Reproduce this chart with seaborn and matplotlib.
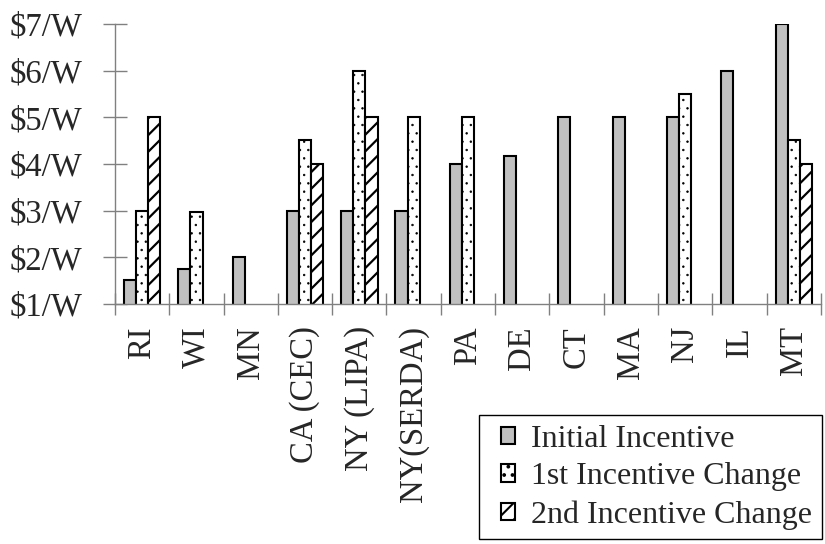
import pandas as pd
import matplotlib
matplotlib.use("Agg")
import matplotlib.pyplot as plt
from matplotlib.container import BarContainer
from matplotlib.legend_handler import HandlerPatch, update_from_first_child
import seaborn as sns

# states / programs on the x axis
states = ["RI", "WI", "MN", "CA (CEC)", "NY (LIPA)", "NY(SERDA)", "PA",
          "DE", "CT", "MA", "NJ", "IL", "MT"]
series = ["Initial Incentive", "1st Incentive Change", "2nd Incentive Change"]

# $/W values (None = no bar)
initial = [1.52, 1.76, 2.0, 3.0, 3.0, 3.0, 4.0, 4.18, 5.0, 5.0, 5.0, 6.0, 7.0]
change1 = [3.0, 2.97, None, 4.52, 6.0, 5.0, 5.0, None, None, None, 5.5, None, 4.52]
change2 = [5.0, None, None, 4.0, 5.0, None, None, None, None, None, None, None, 4.0]

rows = []
for name, vals in zip(series, [initial, change1, change2]):
    for st, v in zip(states, vals):
        if v is not None:
            rows.append({"state": st, "series": name, "value": v})
df = pd.DataFrame(rows)

sns.set_style("white")
plt.rcParams["font.family"] = ["Liberation Serif", "DejaVu Serif"]
plt.rcParams["hatch.linewidth"] = 1.5

fig = plt.figure(figsize=(8.25, 5.44), dpi=100, facecolor="white")
ax = fig.add_axes([0.1394, 0.4412, 0.8556, 0.5147])

colors = ["#c0c0c0", "white", "white"]
hatches = ["", "..", "//"]
hatch_lw = [1.0, 0.5, 1.6]
sns.barplot(data=df, x="state", y="value", hue="series", order=states,
            hue_order=series, palette=colors, width=0.67, dodge=True,
            edgecolor="black", linewidth=1.5, saturation=1, legend=False, ax=ax)

for cont, h, hl in zip(ax.containers, hatches, hatch_lw):
    for bar in cont:
        bar.set_hatch(h)
        bar.set_edgecolor("black")
        if hasattr(bar, "set_hatch_linewidth"):
            bar.set_hatch_linewidth(hl)

ax.set_ylim(1, 7)
ax.set_xlim(-0.5, len(states) - 0.5)
ax.set_yticks(range(1, 8))
ax.set_yticklabels([f"${v}/W" for v in range(1, 8)])
ax.set_xticks(range(len(states)))
ax.set_xticklabels(states, rotation=90)
ax.set_xticks([i - 0.5 for i in range(len(states) + 1)], minor=True)
ax.set_xlabel("")
ax.set_ylabel("")

for s in ["top", "right"]:
    ax.spines[s].set_visible(False)
for s in ["left", "bottom"]:
    ax.spines[s].set_color("#808080")
    ax.spines[s].set_linewidth(1)

ax.tick_params(axis="y", direction="inout", length=17, width=1, color="#808080",
               labelsize=23.5, pad=15, left=True)
ax.tick_params(axis="x", which="major", length=0, labelsize=23.5, pad=16)
ax.tick_params(axis="x", which="minor", direction="inout", length=16, width=1,
               color="#808080", bottom=True)

# small square handles with some extra room on their left
handler = HandlerPatch(xpad=0.39, update_func=update_from_first_child)
leg = ax.legend(ax.containers, series, loc="lower right",
                bbox_to_anchor=(0.996, 0.009), bbox_transform=fig.transFigure,
                fontsize=23, frameon=True, fancybox=False, framealpha=1,
                edgecolor="black", handlelength=0.84, handleheight=0.45,
                handletextpad=0.5, labelspacing=0.27, borderpad=0.3,
                borderaxespad=0, handler_map={BarContainer: handler})
leg.get_frame().set_linewidth(1)

fig.savefig("out.png", dpi=100, facecolor="white")
